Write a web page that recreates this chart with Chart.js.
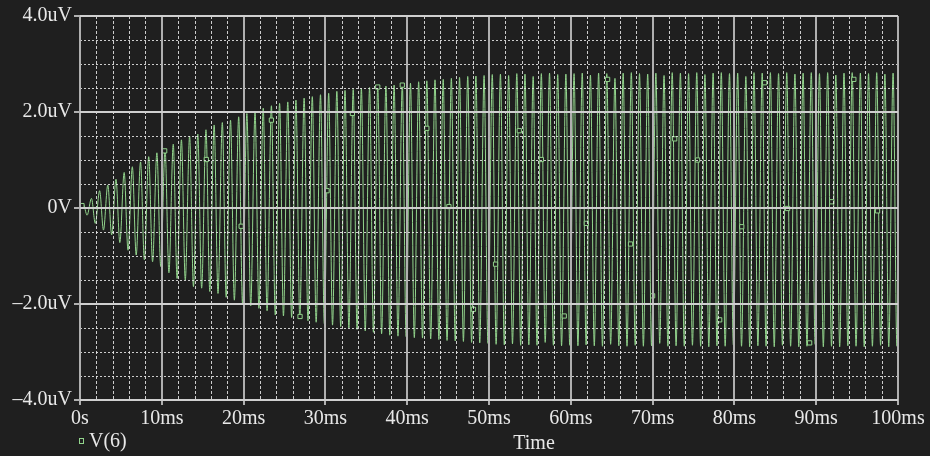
<!DOCTYPE html>
<html>
<head>
<meta charset="utf-8">
<script src="https://cdn.jsdelivr.net/npm/chart.js@4.4.1/dist/chart.umd.min.js"></script>
<style>
html, body { margin: 0; padding: 0; background: #1f1f1f; }
#traceBox { width: 930px; height: 456px; }
</style>
</head>
<body>
<div id="traceBox"><canvas id="traceChart"></canvas></div>
<script>
// V(6) transient: one peak and one trough per 1ms cycle, values in uV
var peakV = [
    0.08, 0.20, 0.36, 0.48, 0.60, 0.74, 0.86, 0.96, 1.07, 1.15,
    1.22, 1.33, 1.42, 1.50, 1.54, 1.63, 1.73, 1.78, 1.83, 1.90,
    1.97, 2.00, 2.08, 2.13, 2.18, 2.21, 2.25, 2.29, 2.32, 2.36,
    2.39, 2.43, 2.45, 2.47, 2.49, 2.51, 2.53, 2.54, 2.56, 2.58,
    2.60, 2.63, 2.65, 2.67, 2.68, 2.70, 2.72, 2.74, 2.75, 2.76,
    2.78, 2.79, 2.76, 2.80, 2.79, 2.74, 2.80, 2.81, 2.78, 2.79,
    2.80, 2.81, 2.77, 2.81, 2.80, 2.70, 2.81, 2.82, 2.80, 2.79,
    2.81, 2.76, 2.82, 2.81, 2.80, 2.82, 2.78, 2.81, 2.82, 2.80,
    2.81, 2.74, 2.82, 2.81, 2.82, 2.80, 2.82, 2.79, 2.81, 2.82,
    2.80, 2.82, 2.77, 2.81, 2.82, 2.81, 2.80, 2.82, 2.79, 2.81
];
var troughV = [
    -0.15, -0.32, -0.46, -0.56, -0.72, -0.88, -0.98, -1.08, -1.12, -1.22,
    -1.35, -1.47, -1.50, -1.64, -1.67, -1.74, -1.78, -1.86, -1.92, -1.99,
    -2.04, -2.09, -2.14, -2.23, -2.25, -2.28, -2.31, -2.35, -2.38, -2.41,
    -2.44, -2.47, -2.50, -2.53, -2.56, -2.59, -2.62, -2.65, -2.67, -2.68,
    -2.70, -2.71, -2.73, -2.74, -2.76, -2.77, -2.78, -2.80, -2.81, -2.82,
    -2.84, -2.85, -2.83, -2.86, -2.85, -2.86, -2.80, -2.86, -2.87, -2.86,
    -2.87, -2.85, -2.87, -2.88, -2.84, -2.87, -2.88, -2.86, -2.88, -2.87,
    -2.82, -2.88, -2.87, -2.88, -2.86, -2.88, -2.89, -2.87, -2.88, -2.85,
    -2.88, -2.89, -2.87, -2.88, -2.89, -2.86, -2.88, -2.89, -2.88, -2.84,
    -2.89, -2.88, -2.89, -2.87, -2.88, -2.89, -2.88, -2.86, -2.89, -2.88
];
var peakOffset = 0.4;      // ms into each cycle
var troughOffset = 0.87;
var startV = 0;
var endV = -1.9;

// sparse data-point symbols PSpice puts on the trace (ms, uV)
var markerT = [0.24, 10.35, 15.44, 19.7, 23.4, 26.9, 30.2, 33.3, 36.4, 39.4, 42.4, 45.1, 48.1, 50.8, 53.7, 56.4, 59.2, 61.9, 64.5, 67.3, 70.0, 72.7, 75.5, 78.2, 80.9, 83.7, 86.5, 89.2, 91.9, 94.6, 97.5];
var markerV = [0.05, 1.19, 1.01, -0.38, 1.83, -2.26, 0.36, 1.97, 2.52, 2.56, 1.66, 0.03, -2.11, -1.17, 1.61, 1.01, -2.25, -0.32, 2.68, -0.75, -1.83, 1.44, 1.0, -2.33, -0.39, 2.61, -0.01, -2.81, 0.13, 2.68, -0.06];

var xTicks = [0, 10, 20, 30, 40, 50, 60, 70, 80, 90, 100];
var xLabels = ["0s", "10ms", "20ms", "30ms", "40ms", "50ms", "60ms", "70ms", "80ms", "90ms", "100ms"];
var yTicks = [-4, -2, 0, 2, 4];
var yLabels = ["\u20134.0uV", "\u20132.0uV", "0V", "2.0uV", "4.0uV"];
var xMinorStep = 2;
var yMinorStep = 0.5;

var traceColor = "#92d48c";
var textColor = "#e8e8e8";
var gridColor = "#b0b0b0";
var labelFont = { family: "'Liberation Serif', 'Times New Roman', serif", size: 20 };

var trace = [{ x: 0, y: startV }];
for (var k = 0; k < peakV.length; k++)
{
    trace.push({ x: k + peakOffset, y: peakV[k] });
    trace.push({ x: k + troughOffset, y: troughV[k] });
}
trace.push({ x: 100, y: endV });

var markers = [];
for (var i = 0; i < markerT.length; i++)
{
    markers.push({ x: markerT[i], y: markerV[i] });
}

var backgroundPlugin = {
    id: "background",
    beforeDraw: function (chart) {
        var ctx = chart.ctx;
        ctx.save();
        ctx.fillStyle = "#1f1f1f";
        ctx.fillRect(0, 0, chart.width, chart.height);
        ctx.restore();
    }
};

// dotted minor grid, drawn over the trace like the original
var minorGridPlugin = {
    id: "minorGrid",
    afterDatasetsDraw: function (chart) {
        var ctx = chart.ctx;
        var area = chart.chartArea;
        var xs = chart.scales.x;
        var ys = chart.scales.y;
        ctx.save();
        ctx.strokeStyle = "rgba(235,235,235,0.85)";
        ctx.lineWidth = 1;
        ctx.setLineDash([3, 2]);
        for (var v = xs.min; v <= xs.max; v += xMinorStep)
        {
            if (v % 10 === 0) continue;
            var px = Math.round(xs.getPixelForValue(v)) + 0.5;
            ctx.beginPath();
            ctx.moveTo(px, area.top);
            ctx.lineTo(px, area.bottom);
            ctx.stroke();
        }
        ctx.setLineDash([2, 2]);
        for (var w = ys.min; w <= ys.max; w += yMinorStep)
        {
            if (w % 2 === 0) continue;
            var py = Math.round(ys.getPixelForValue(w)) + 0.5;
            ctx.beginPath();
            ctx.moveTo(area.left, py);
            ctx.lineTo(area.right, py);
            ctx.stroke();
        }
        ctx.restore();
    }
};

var captionPlugin = {
    id: "captions",
    afterDraw: function (chart) {
        var ctx = chart.ctx;
        var area = chart.chartArea;
        ctx.save();
        ctx.font = labelFont.size + "px " + labelFont.family;
        ctx.fillStyle = textColor;
        ctx.textBaseline = "middle";
        ctx.textAlign = "center";
        ctx.fillText("Time", 534, 444);
        // legend entry
        ctx.strokeStyle = traceColor;
        ctx.lineWidth = 1;
        ctx.strokeRect(area.left - 0.5, 438.5, 4, 5);
        ctx.textAlign = "left";
        ctx.fillText("V(6)", area.left + 9, 442);
        ctx.restore();
    }
};

var chart = new Chart(document.getElementById("traceChart"), {
    type: "line",
    data: {
        datasets: [
            {
                label: "V(6) symbols",
                data: markers,
                showLine: false,
                pointStyle: "rect",
                pointRadius: 3,
                pointBorderWidth: 1,
                pointBorderColor: traceColor,
                pointBackgroundColor: "#1f1f1f",
                order: 0
            },
            {
                label: "V(6)",
                data: trace,
                borderColor: traceColor,
                borderWidth: 1,
                pointRadius: 0,
                cubicInterpolationMode: "monotone",
                order: 1
            }
        ]
    },
    options: {
        responsive: true,
        maintainAspectRatio: false,
        animation: false,
        layout: { padding: { top: 16, right: 32, left: 0, bottom: 0 } },
        plugins: {
            legend: { display: false },
            tooltip: { enabled: false }
        },
        scales: {
            x: {
                type: "linear",
                min: 0,
                max: 100,
                afterBuildTicks: function (scale) {
                    scale.ticks = xTicks.map(function (v) { return { value: v }; });
                },
                afterFit: function (scale) { scale.height = 56; },
                ticks: {
                    color: textColor,
                    font: labelFont,
                    maxRotation: 0,
                    padding: 2,
                    autoSkip: false,
                    callback: function (v) { return xLabels[xTicks.indexOf(v)]; }
                },
                grid: { color: gridColor, lineWidth: 2, tickLength: 5, tickColor: gridColor, z: 1 },
                border: { display: false }
            },
            y: {
                min: -4,
                max: 4,
                afterBuildTicks: function (scale) {
                    scale.ticks = yTicks.map(function (v) { return { value: v }; });
                },
                afterFit: function (scale) { scale.width = 80; },
                ticks: {
                    color: textColor,
                    font: labelFont,
                    padding: 2,
                    autoSkip: false,
                    callback: function (v) { return yLabels[yTicks.indexOf(v)]; }
                },
                grid: { color: "#cfcfcf", lineWidth: 2, tickLength: 6, tickColor: gridColor, z: 1 },
                border: { display: false }
            }
        }
    },
    plugins: [backgroundPlugin, minorGridPlugin, captionPlugin]
});
</script>
</body>
</html>
